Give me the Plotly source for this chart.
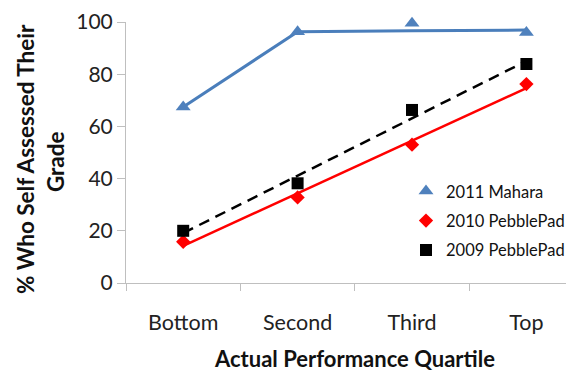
import numpy as np
import plotly.graph_objects as go

categories = ["Bottom", "Second", "Third", "Top"]
mahara_2011 = [67.4, 96.3, 99.5, 96.0]
mahara_2011_line = [67.4, 96.3, 96.6, 96.9]
pebblepad_2010 = [15.8, 32.8, 53.0, 76.2]
pebblepad_2009 = [20.0, 38.2, 66.3, 83.9]
y_ticks = [0, 20, 40, 60, 80, 100]

idx = np.arange(len(categories))
fit_2010 = np.polyval(np.polyfit(idx, pebblepad_2010, 1), idx)
fit_2009 = np.polyval(np.polyfit(idx, pebblepad_2009, 1), idx)

FONT = "Lato, 'Open Sans', sans-serif"
BLUE = "#4a7ebb"

fig = go.Figure()
fig.add_trace(go.Scatter(x=categories, y=mahara_2011_line, mode="lines",
                         line=dict(color=BLUE, width=3), showlegend=False, hoverinfo="skip"))
fig.add_trace(go.Scatter(x=categories, y=fit_2010, mode="lines",
                         line=dict(color="#ff0000", width=2.5), showlegend=False, hoverinfo="skip"))
fig.add_trace(go.Scatter(x=categories, y=fit_2009, mode="lines",
                         line=dict(color="#000000", width=2.5, dash="11px,7px"), showlegend=False, hoverinfo="skip"))

fig.add_trace(go.Scatter(x=categories, y=mahara_2011, mode="markers", name="2011 Mahara",
                         legendgroup="a", cliponaxis=False,
                         marker=dict(symbol="triangle-up", size=13, color="#4f81bd")))
fig.add_trace(go.Scatter(x=categories, y=pebblepad_2010, mode="markers", name="2010 PebblePad",
                         legendgroup="b", cliponaxis=False,
                         marker=dict(symbol="diamond", size=11, color="#ff0000")))
fig.add_trace(go.Scatter(x=categories, y=pebblepad_2009, mode="markers", name="2009 PebblePad",
                         legendgroup="c", cliponaxis=False,
                         marker=dict(symbol="square", size=12, color="#000000")))

fig.update_layout(
    width=566, height=363,
    margin=dict(l=118, r=0, t=14, b=88),
    paper_bgcolor="white", plot_bgcolor="white",
    font=dict(family=FONT, color="#222222"),
    legend=dict(x=0.625, y=0.238, xanchor="left", yanchor="middle",
                traceorder="grouped", tracegroupgap=5,
                font=dict(size=16.5, family=FONT, color="#111111"),
                bgcolor="rgba(0,0,0,0)", itemwidth=30),
    xaxis=dict(type="category", range=[-0.5, 3.416], tickson="boundaries",
               ticks="outside", ticklen=7, tickcolor="#bfbfbf",
               showline=True, linecolor="#bfbfbf", linewidth=1,
               showgrid=False, zeroline=False,
               tickfont=dict(size=21.5, family=FONT, color="#222222"),
               ticklabelstandoff=20),
    yaxis=dict(range=[0, 100], tickvals=y_ticks, ticks="outside", ticklen=8,
               tickcolor="#bfbfbf", showline=True, linecolor="#bfbfbf", linewidth=1,
               showgrid=False, zeroline=False,
               tickfont=dict(size=21, family=FONT, color="#222222"),
               ticklabelstandoff=0),
    annotations=[
        dict(text="<b>Actual Performance Quartile</b>", xref="paper", yref="paper",
             x=0.511, y=-0.29, xanchor="center", yanchor="middle", showarrow=False,
             font=dict(size=22, family=FONT, color="#111111")),
        dict(text="<b>% Who Self Assessed Their</b>", xref="paper", yref="paper",
             x=-0.2254, y=0.475, xanchor="center", yanchor="middle", showarrow=False,
             textangle=-90,
             font=dict(size=22.5, family=FONT, color="#111111")),
        dict(text="<b>Grade</b>", xref="paper", yref="paper",
             x=-0.1585, y=0.467, xanchor="center", yanchor="middle", showarrow=False,
             textangle=-90,
             font=dict(size=22.5, family=FONT, color="#111111")),
    ],
)

fig.write_html("out.html")
